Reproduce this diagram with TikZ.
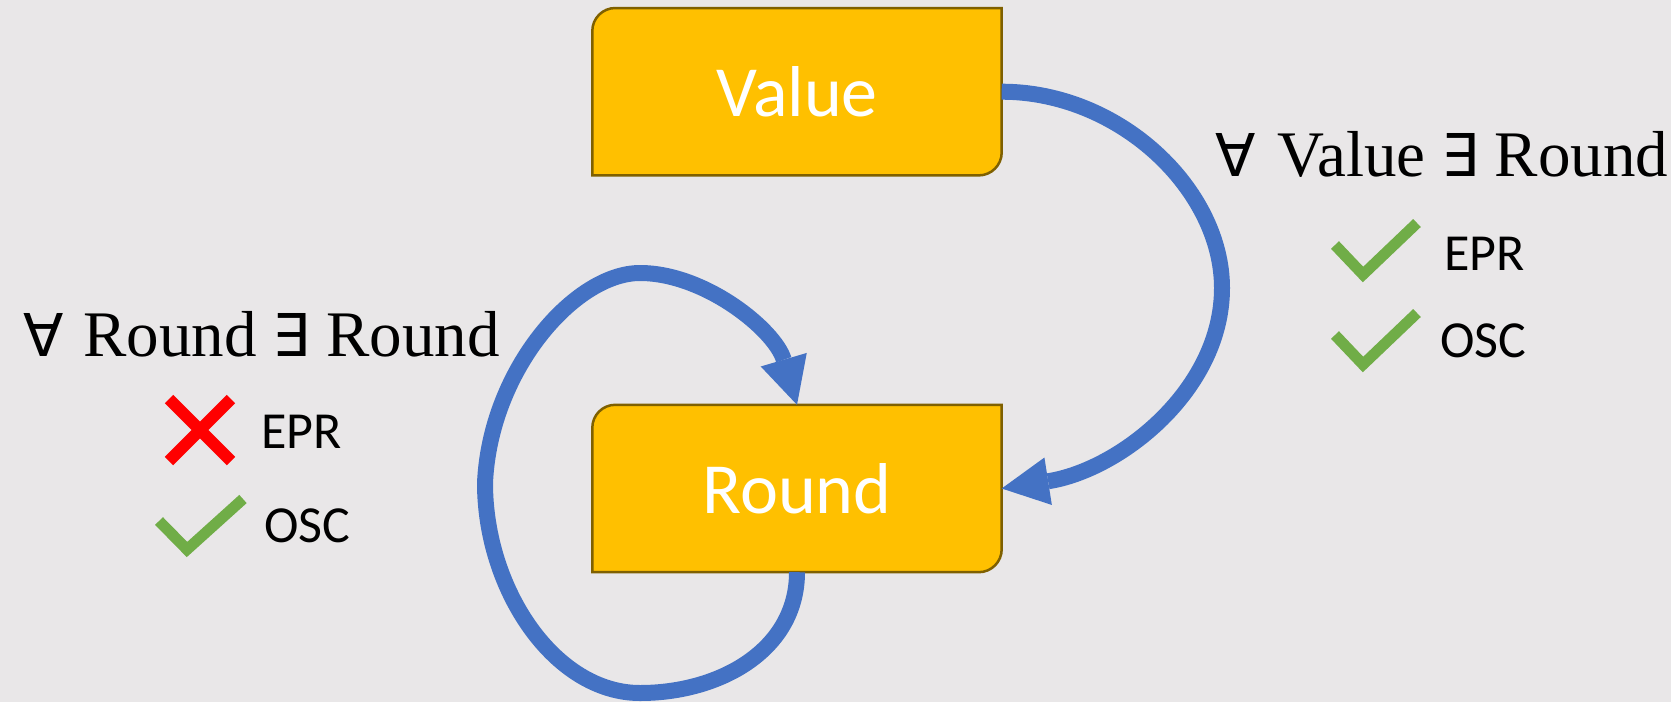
\documentclass[tikz,border=0pt]{standalone}
\usepackage{fontspec}
\setmainfont{Liberation Serif}
\newfontfamily\calibri{Carlito}
\newfontfamily\symfont{DejaVu Sans}
\usetikzlibrary{arrows.meta,backgrounds}

\definecolor{bg}{RGB}{233,231,232}
\definecolor{boxfill}{RGB}{255,192,0}
\definecolor{boxedge}{RGB}{127,96,0}
\definecolor{flow}{RGB}{68,114,196}
\definecolor{okgreen}{RGB}{112,173,71}
\definecolor{nored}{RGB}{255,0,0}

% box with rounded top-left and bottom-right corners around a named node
\newcommand\drawstatebox[1]{%
  \draw[statebg] (#1.south west) -- ([yshift=-23pt]#1.north west)
    arc[start angle=180,end angle=90,radius=23pt] -- (#1.north east)
    -- ([yshift=23pt]#1.south east)
    arc[start angle=0,end angle=-90,radius=23pt] -- cycle;}

\begin{document}
\begin{tikzpicture}[x=1pt,y=-1pt,
  state/.style={minimum width=409pt, minimum height=167pt, inner sep=0pt,
    font=\calibri\fontsize{72}{80}\selectfont, text=white},
  statebg/.style={fill=boxfill, draw=boxedge, line width=2.5pt},
  flowline/.style={draw=flow, line width=16pt,
    -{Triangle[length=47pt,width=48pt,line width=0pt]}},
  rule/.style={font=\fontsize{65}{70}\selectfont, anchor=base west, inner sep=0pt},
  tag/.style={font=\calibri\fontsize{52}{56}\selectfont, anchor=base west, inner sep=0pt},
  tick/.style={draw=okgreen, line width=11pt},
  cross/.style={draw=nored, line width=12pt},
]
\useasboundingbox (0,0) rectangle (1671,702);

% states
\node[state] (value) at (797,91.7) {Value};
\node[state] (round) at (797,488.5) {Round};

\begin{pgfonlayer}{background}
  \fill[bg] (0,0) rectangle (1671,702);
  \drawstatebox{value}
  \drawstatebox{round}
\end{pgfonlayer}

% transitions
\draw[flowline] (value.east) .. controls (1120,91.7) and (1222,190) .. (1222,288)
  .. controls (1222,390) and (1120,470) .. (round.east);
\draw[flowline] (round.south) .. controls (797,650) and (720,693) .. (640,693)
  .. controls (555,693) and (485,590) .. (485,483)
  .. controls (490,370) and (575,273) .. (640,273)
  .. controls (705,273) and (775,330) .. (round.north);

% rule labels
\node[rule] (ruleVR) at (1215,176)
  {{\symfont\fontsize{59}{64}\selectfont ∀}\hspace{22pt}Value\hspace{16pt}{\symfont\fontsize{59}{64}\selectfont ∃}\hspace{16pt}Round};
\node[rule] (ruleRR) at (23,356)
  {{\symfont\fontsize{59}{64}\selectfont ∀}\hspace{20pt}Round\hspace{16pt}{\symfont\fontsize{59}{64}\selectfont ∃}\hspace{16pt}Round};

% right checklist
\draw[tick] (1335,245) -- (1363,274.5) -- (1417,223);
\node[tag] (eprVR) at (1444,270) {EPR};
\draw[tick] (1335,335) -- (1363,364.5) -- (1417,313);
\node[tag] (oscVR) at (1440,357) {OSC};

% left checklist
\draw[cross] (169,399) -- (231,461) (231,399) -- (169,461);
\node[tag] (eprRR) at (261,448) {EPR};
\draw[tick] (159,521) -- (187,549.5) -- (243,499);
\node[tag] (oscRR) at (264,542) {OSC};
\end{tikzpicture}
\end{document}
